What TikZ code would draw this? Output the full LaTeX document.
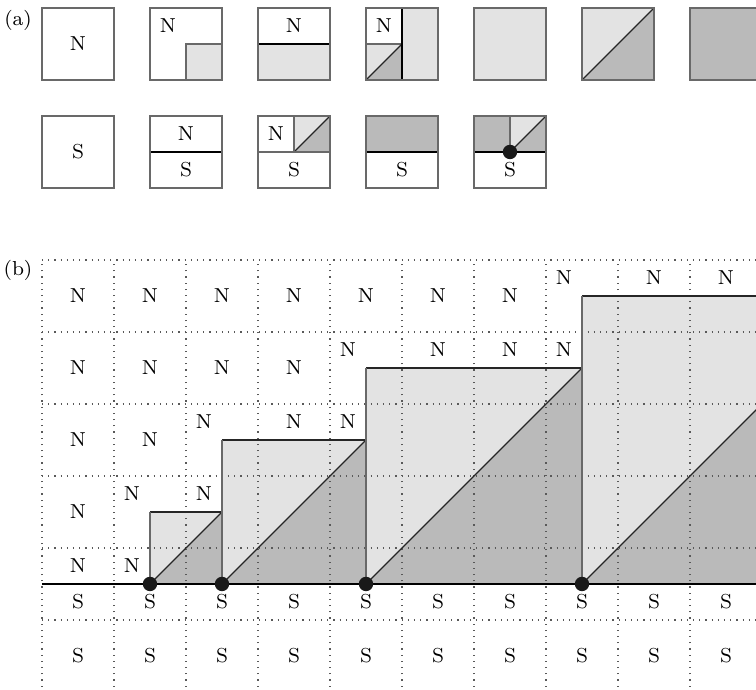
\documentclass[tikz,border=0pt]{standalone}
\usepackage{tikz}
\definecolor{tileLight}{RGB}{227, 227, 227}
\definecolor{tileDark}{RGB}{186, 186, 186}
\definecolor{tileEdge}{RGB}{105, 105, 105}
\tikzset{
  tile/.style={draw=tileEdge, line width=0.8pt},
  part/.style={draw=tileEdge, line width=0.6pt},
  cutline/.style={black, line width=1.1pt},
  diag/.style={black!85, line width=0.45pt},
  gridline/.style={dotted, black!65, line width=0.45pt},
  lbl/.style={font=\footnotesize, inner sep=0pt},
}

\begin{document}
\begin{tikzpicture}
  \useasboundingbox (-0.5833,-1.4722) rectangle (9.9167,8.1111);
  \clip (-0.5833,-1.4722) rectangle (9.9167,8.1111);

  \node[lbl] (tagA) at (-0.333,7.83) {(a)};
  \node[lbl] (tagB) at (-0.333,4.36) {(b)};

  % (a) upper row
  \fill[tileLight] (2,7) rectangle (2.5,7.5);
  \draw[part] (2,7) rectangle (2.5,7.5);
  \fill[tileLight] (3,7) rectangle (4,7.5);
  \draw[cutline] (3,7.5) -- (4,7.5);
  \fill[tileLight] (5,7) rectangle (5.5,8);
  \fill[tileLight] (4.5,7) rectangle (5,7.5);
  \fill[tileDark] (4.5,7) -- (5,7) -- (5,7.5) -- cycle;
  \draw[part] (4.5,7.5) -- (5,7.5);
  \draw[diag] (4.5,7) -- (5,7.5);
  \draw[cutline] (5,7) -- (5,8);
  \fill[tileLight] (6,7) rectangle (7,8);
  \fill[tileLight] (7.5,7) rectangle (8.5,8);
  \fill[tileDark] (7.5,7) -- (8.5,7) -- (8.5,8) -- cycle;
  \draw[diag] (7.5,7) -- (8.5,8);
  \fill[tileDark] (9,7) rectangle (10,8);
  \foreach \x in {0,1.5,...,9}
    \draw[tile] (\x,7) rectangle +(1,1);
  \node[lbl] (a0) at (0.5,7.5) {N};
  \node[lbl] (a1) at (1.75,7.75) {N};
  \node[lbl] (a2) at (3.5,7.75) {N};
  \node[lbl] (a3) at (4.75,7.75) {N};

  % (a) lower row
  \draw[cutline] (1.5,6) -- (2.5,6);
  \fill[tileLight] (3.5,6) rectangle (4,6.5);
  \fill[tileDark] (3.5,6) -- (4,6) -- (4,6.5) -- cycle;
  \draw[diag] (3.5,6) -- (4,6.5);
  \draw[part] (3,6) -- (4,6) (3.5,6) -- (3.5,6.5);
  \fill[tileDark] (4.5,6) rectangle (5.5,6.5);
  \draw[cutline] (4.5,6) -- (5.5,6);
  \fill[tileDark] (6,6) rectangle (7,6.5);
  \fill[tileLight] (6.5,6) -- (6.5,6.5) -- (7,6.5) -- cycle;
  \draw[diag] (6.5,6) -- (7,6.5);
  \draw[part] (6.5,6) -- (6.5,6.5);
  \draw[cutline] (6,6) -- (7,6);
  \fill[black!90] (6.5,6) circle (0.1);
  \foreach \x in {0,1.5,...,6}
    \draw[tile] (\x,5.5) rectangle +(1,1);
  \node[lbl] (b0) at (0.5,6) {S};
  \node[lbl] (b1n) at (2,6.25) {N};
  \node[lbl] (b1s) at (2,5.75) {S};
  \node[lbl] (b2n) at (3.25,6.25) {N};
  \node[lbl] (b2s) at (3.5,5.75) {S};
  \node[lbl] (b3s) at (5,5.75) {S};
  \node[lbl] (b4s) at (6.5,5.75) {S};

  % (b) staircase
  \foreach \a/\s in {1.5/1, 2.5/2, 4.5/3, 7.5/4} {
    \fill[tileLight] (\a,0) rectangle (\a+\s,\s);
    \fill[tileDark] (\a,0) -- (\a+\s,0) -- (\a+\s,\s) -- cycle;
  }
  \foreach \x in {0,...,10}
    \draw[gridline] (\x,-1.6) -- (\x,4.5);
  \foreach \y in {-0.5,0.5,...,4.5}
    \draw[gridline] (0,\y) -- (10.5,\y);
  \foreach \a/\s in {1.5/1, 2.5/2, 4.5/3, 7.5/4} {
    \draw[diag] (\a,0) -- (\a+\s,\s);
    \draw[diag] (\a,\s) -- (\a+\s,\s);
    \draw[part] (\a,0) -- (\a,\s) (\a+\s,0) -- (\a+\s,\s);
  }
  \draw[cutline] (0,0) -- (10.5,0);
  \foreach \x in {1.5,2.5,4.5,7.5}
    \fill[black!90] (\x,0) circle (0.1);

  \foreach \i in {0,...,9} {
    \node[lbl] (s\i) at (\i+0.5,-0.25) {S};
    \node[lbl] (t\i) at (\i+0.5,-1) {S};
  }
  \foreach \x/\y [count=\k] in {0.5/4, 1.5/4, 2.5/4, 3.5/4, 4.5/4, 5.5/4, 6.5/4,
      0.5/3, 1.5/3, 2.5/3, 3.5/3, 0.5/2, 1.5/2, 0.5/1, 0.5/0.25,
      7.25/4.25, 8.5/4.25, 9.5/4.25, 4.25/3.25, 5.5/3.25, 6.5/3.25, 7.25/3.25,
      2.25/2.25, 3.5/2.25, 4.25/2.25, 1.25/1.25, 2.25/1.25, 1.25/0.25}
    \node[lbl] (n\k) at (\x,\y) {N};
\end{tikzpicture}
\end{document}
